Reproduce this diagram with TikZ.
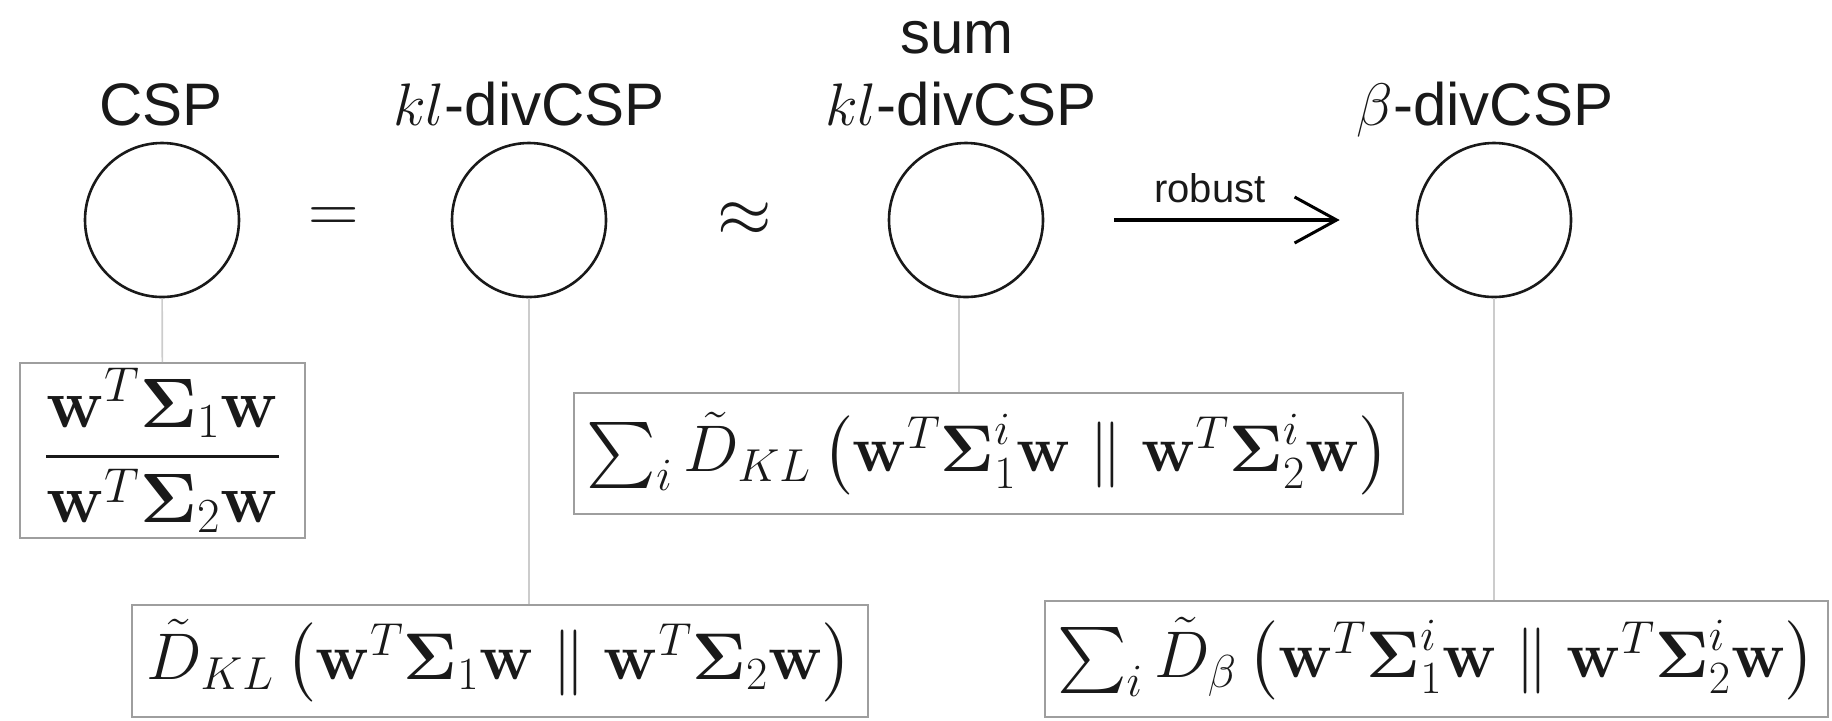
\RequirePackage{fix-cm}
\documentclass[tikz,border=0pt]{standalone}
\usepackage{amsmath,amssymb}
\usepackage[no-math]{fontspec}
\newfontfamily\labfont{Liberation Sans}
\usetikzlibrary{arrows.meta}
\begin{document}
\begin{tikzpicture}[x=0.5pt,y=-0.5pt,
  circ/.style={circle,draw=black!90,line width=1.3pt,minimum size=77pt,inner sep=0pt},
  lab/.style={font=\labfont\fontsize{30}{35}\selectfont,anchor=base,inner sep=0pt,text=black!90},
  small/.style={font=\labfont\fontsize{20}{24}\selectfont,anchor=base,inner sep=0pt,text=black!90},
  fbox/.style={draw=black!38,line width=1pt,inner sep=0pt,font=\fontsize{33}{40}\selectfont,text=black!90},
  conn/.style={draw=black!20,line width=0.8pt},
  rel/.style={font=\fontsize{35}{40}\selectfont,inner sep=0pt,text=black!90},
  arr/.style={line width=1.8pt,-{Straight Barb[length=21pt,width=23pt,line width=1.5pt]},shorten <=35pt,shorten >=38pt}]
\useasboundingbox (0,0) rectangle (1832,720);
% circles
\node[circ] (c1) at (162,220) {};
\node[circ] (c2) at (529,220) {};
\node[circ] (c3) at (966,220) {};
\node[circ] (c4) at (1494,220) {};
% labels
\node[lab] (l1) at (161,125) {CSP};
\node[lab] (l2) at (529,125) {$kl$-divCSP};
\node[lab] (l3s) at (957,53) {sum};
\node[lab] (l3) at (961,125) {$kl$-divCSP};
\node[lab] (l4) at (1485,125) {$\beta$-divCSP};
% relations
\node[rel] (eq) at (334,220) {$=$};
\node[rel] (ap) at (745,220) {$\approx$};
\draw[arr] (c3) -- (c4);
\node[small] (rb) at (1210,202) {robust};
% formula boxes
\node[fbox,font=\fontsize{35}{42}\selectfont,minimum width=142.5pt,minimum height=87.5pt] (b1) at (162.5,450.5)
  {$\displaystyle\frac{\mathbf{w}^T\boldsymbol{\Sigma}_1\mathbf{w}}{\mathbf{w}^T\boldsymbol{\Sigma}_2\mathbf{w}}$};
\node[fbox,minimum width=368pt,minimum height=56pt] (b2) at (500,661)
  {$\tilde{D}_{KL}\left(\mathbf{w}^T\boldsymbol{\Sigma}_1\mathbf{w}\parallel\mathbf{w}^T\boldsymbol{\Sigma}_2\mathbf{w}\right)$};
\node[fbox,minimum width=414.5pt,minimum height=60.5pt] (b3) at (988.5,453.5)
  {$\sum_i\tilde{D}_{KL}\left(\mathbf{w}^T\boldsymbol{\Sigma}_1^i\mathbf{w}\parallel\mathbf{w}^T\boldsymbol{\Sigma}_2^i\mathbf{w}\right)$};
\node[fbox,minimum width=391.5pt,minimum height=58pt] (b4) at (1436.5,659)
  {$\sum_i\tilde{D}_{\beta}\left(\mathbf{w}^T\boldsymbol{\Sigma}_1^i\mathbf{w}\parallel\mathbf{w}^T\boldsymbol{\Sigma}_2^i\mathbf{w}\right)$};
% connectors
\draw[conn] (c1) -- (b1);
\draw[conn] (c2.south) -- (c2.south |- b2.north);
\draw[conn] ([xshift=-3.5pt]c3.south) -- ([xshift=-3.5pt]c3.south |- b3.north);
\draw[conn] (c4.south) -- (c4.south |- b4.north);
\end{tikzpicture}
\end{document}
